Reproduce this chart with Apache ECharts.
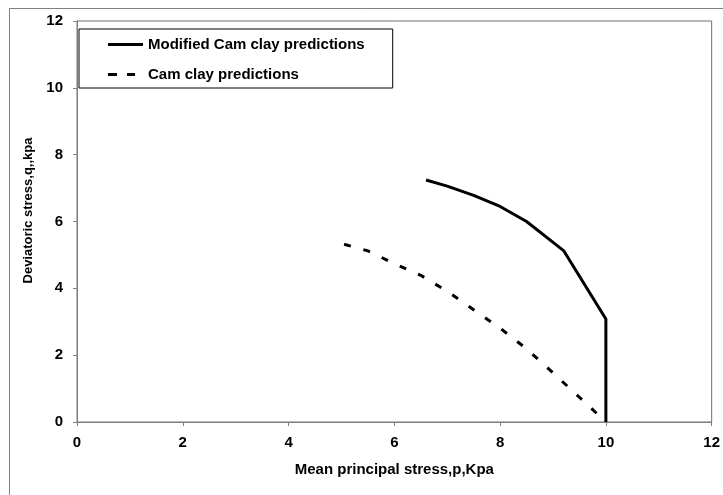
<!DOCTYPE html>
<html>
<head>
<meta charset="utf-8">
<script src="https://cdn.jsdelivr.net/npm/echarts@6/dist/echarts.min.js"></script>
<style>
html,body{margin:0;padding:0;background:#fff;}
#chart{width:723px;height:495px;}
</style>
</head>
<body>
<div id="chart"></div>
<script>
const seriesNames = ['Modified Cam clay predictions', 'Cam clay predictions'];
const mccP = [6.6, 7.0, 7.5, 8.0, 8.5, 9.2, 10.0, 10.0];
const mccQ = [7.24, 7.06, 6.78, 6.45, 6.0, 5.13, 3.08, 0];
const ccP = [5.05, 5.5, 6.0, 6.5, 7.0, 7.5, 8.0, 8.5, 9.0, 9.5, 10.0];
const ccQ = [5.32, 5.12, 4.74, 4.39, 3.91, 3.36, 2.81, 2.19, 1.47, 0.74, 0];
const xTicks = [0, 2, 4, 6, 8, 10, 12];
const yTicks = [0, 2, 4, 6, 8, 10, 12];
const xTitle = 'Mean principal stress,p,Kpa';
const yTitle = 'Deviatoric stress,q,,kpa';

const font = 'Arial, "Liberation Sans", sans-serif';
const chart = echarts.init(document.getElementById('chart'), null, {renderer: 'canvas'});
const axisCommon = {
  min: 0, max: 12, interval: 2,
  axisLine: {show: true, onZero: false, lineStyle: {color: '#808080', width: 1}},
  axisTick: {show: true, length: 4, lineStyle: {color: '#808080'}},
  splitLine: {show: false},
  axisLabel: {color: '#000', fontWeight: 'bold', fontSize: 15, fontFamily: font},
  nameTextStyle: {color: '#000', fontWeight: 'bold', fontSize: 15, fontFamily: font}
};
chart.setOption({
  animation: false,
  backgroundColor: '#fff',
  graphic: [{
    type: 'rect', shape: {x: 9.5, y: 8.5, width: 800, height: 600},
    style: {fill: 'none', stroke: '#808080', lineWidth: 1}, z: -10
  }],
  grid: {left: 77, top: 21, right: 8, bottom: 73, show: true, borderColor: '#707070', borderWidth: 1, backgroundColor: '#fff'},
  legend: {
    orient: 'vertical', left: 79, top: 29,
    padding: [8, 28, 6, 29], itemGap: 15, itemWidth: 35, itemHeight: 3,
    symbolKeepAspect: false,
    backgroundColor: '#fff', borderColor: '#000', borderWidth: 1,
    textStyle: {color: '#000', fontWeight: 'bold', fontSize: 15, fontFamily: font},
    data: [
      {name: seriesNames[0], icon: 'path://M0,0h35v3h-35z'},
      {name: seriesNames[1], icon: 'path://M0,0h9v3h-9z M19,0h8v3h-8z M34.9,1.5h0.1v0.01h-0.1z'}
    ]
  },
  xAxis: Object.assign({}, axisCommon, {
    type: 'value', name: xTitle, nameLocation: 'middle', nameGap: 40,
    axisLabel: Object.assign({}, axisCommon.axisLabel, {margin: 13, formatter: v => xTicks.includes(v) ? String(v) : ''})
  }),
  yAxis: Object.assign({}, axisCommon, {
    type: 'value', name: yTitle, nameLocation: 'middle', nameGap: 35,
    nameTextStyle: Object.assign({}, axisCommon.nameTextStyle, {fontSize: 13, padding: [0, 0, 0, 22]}),
    axisLabel: Object.assign({}, axisCommon.axisLabel, {margin: 14, formatter: v => yTicks.includes(v) ? String(v) : ''})
  }),
  series: [
    {
      name: seriesNames[0], type: 'line', showSymbol: false, symbol: 'none',
      data: mccP.map((p, i) => [p, mccQ[i]]),
      lineStyle: {color: '#000', width: 3, type: 'solid'},
      itemStyle: {color: '#000'}
    },
    {
      name: seriesNames[1], type: 'line', showSymbol: false, symbol: 'none',
      data: ccP.map((p, i) => [p, ccQ[i]]),
      lineStyle: {color: '#000', width: 3, type: [7, 13]},
      itemStyle: {color: '#000'}
    }
  ]
});
</script>
</body>
</html>
